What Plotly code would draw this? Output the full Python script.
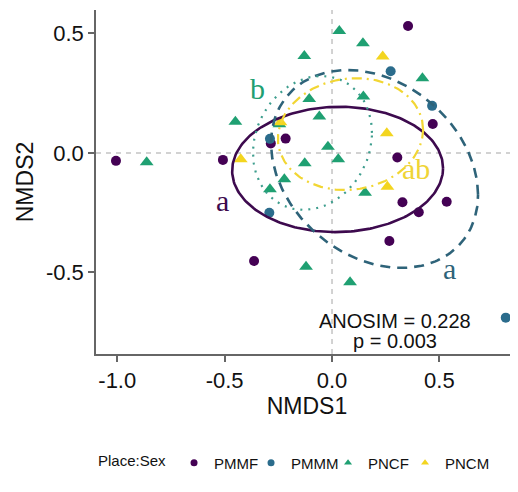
import numpy as np
import plotly.graph_objects as go

# ---------------- data ----------------
groups = ["PMMF", "PMMM", "PNCF", "PNCM"]

pmmf_x = [-1.006, -0.508, -0.216, -0.285, 0.354, 0.469, 0.304, 0.328, 0.404, 0.534, 0.267, -0.363]
pmmf_y = [-0.033, -0.029, 0.060, 0.040, 0.531, 0.121, -0.019, -0.206, -0.248, -0.204, -0.368, -0.452]

pmmm_x = [0.273, 0.466, -0.289, -0.292, 0.809]
pmmm_y = [0.342, 0.197, 0.059, -0.250, -0.689]

pncf_x = [-0.863, -0.450, -0.129, 0.034, 0.144, 0.421, 0.146, -0.106, -0.059, -0.019,
          0.029, -0.127, 0.154, -0.245, -0.289, -0.222, -0.121, 0.084]
pncf_y = [-0.039, 0.131, 0.406, 0.510, 0.459, 0.313, 0.236, 0.226, 0.152, 0.026,
          -0.026, -0.043, -0.166, 0.120, -0.152, -0.110, -0.476, -0.541]

pncm_x = [0.236, 0.255, 0.258, -0.425, -0.240]
pncm_y = [0.403, 0.082, -0.141, -0.026, 0.128]

# ellipse parameters per group: centre, half extents, correlation
ell_cx = [0.026, 0.198, -0.091, 0.086]
ell_cy = [-0.069, -0.067, 0.042, 0.079]
ell_hx = [0.491, 0.482, 0.277, 0.338]
ell_hy = [0.262, 0.414, 0.280, 0.234]
ell_r = [0.02, -0.26, 0.15, 0.08]

# group letters
lab_text = ["a", "a", "b", "ab"]
lab_x = [-0.512, 0.547, -0.345, 0.391]
lab_y = [-0.197, -0.485, 0.268, -0.063]

anosim_r = 0.228
anosim_p = 0.003

# ---------------- styles ----------------
pt_colors = {"PMMF": "#440154", "PMMM": "#2B6C8C", "PNCF": "#1FA072", "PNCM": "#F3D51F"}
pt_symbols = {"PMMF": "circle", "PMMM": "circle", "PNCF": "triangle-up", "PNCM": "triangle-up"}
pt_sizes = {"PMMF": 10, "PMMM": 10, "PNCF": 12, "PNCM": 12}
ell_colors = ["#3D0A4E", "#2E6379", "#3E9E8E", "#F2D633"]
ell_dash = ["solid", "10px,7px", "2px,6px", "10px,5px,2px,5px"]
ell_width = [2.6, 2.6, 2.2, 2.2]
lab_colors = ["#3D0A4E", "#2E6379", "#1FA072", "#EFD436"]

xs = {"PMMF": pmmf_x, "PMMM": pmmm_x, "PNCF": pncf_x, "PNCM": pncm_x}
ys = {"PMMF": pmmf_y, "PMMM": pmmm_y, "PNCF": pncf_y, "PNCM": pncm_y}

fig = go.Figure()

# reference lines
fig.add_hline(y=0, line=dict(color="#C4C4C4", width=1.5, dash="5px,5px"), layer="below")
fig.add_vline(x=0, line=dict(color="#C4C4C4", width=1.5, dash="5px,5px"), layer="below")

# points
for g in groups:
    fig.add_trace(go.Scatter(
        x=xs[g], y=ys[g], mode="markers", name=g, showlegend=False,
        marker=dict(color=pt_colors[g], symbol=pt_symbols[g], size=pt_sizes[g], line=dict(width=0)),
    ))

# ellipses
t = np.linspace(0, 2 * np.pi, 241)
for i, g in enumerate(groups):
    r = ell_r[i]
    ex = ell_cx[i] + ell_hx[i] * np.cos(t)
    ey = ell_cy[i] + ell_hy[i] * (r * np.cos(t) + np.sqrt(1 - r * r) * np.sin(t))
    fig.add_trace(go.Scatter(
        x=ex, y=ey, mode="lines", showlegend=False, hoverinfo="skip",
        line=dict(color=ell_colors[i], width=ell_width[i], dash=ell_dash[i]),
    ))

# legend entries (small keys)
for g in groups:
    fig.add_trace(go.Scatter(
        x=[None], y=[None], mode="markers", name=g,
        marker=dict(color=pt_colors[g], symbol=pt_symbols[g], size=7),
    ))
# blank spacer entry so that the last label is not clipped
fig.add_trace(go.Scatter(x=[None], y=[None], mode="markers", name=" ",
                         marker=dict(color="rgba(0,0,0,0)", size=1), hoverinfo="skip"))

# letters
for i in range(len(lab_text)):
    fig.add_annotation(x=lab_x[i], y=lab_y[i], text=lab_text[i], showarrow=False,
                       font=dict(family="Liberation Serif", size=30, color=lab_colors[i]))

fig.add_annotation(x=0.293, y=-0.703, text=f"ANOSIM = {anosim_r}", showarrow=False,
                   font=dict(family="Liberation Sans", size=20, color="#111111"))
fig.add_annotation(x=0.293, y=-0.787, text=f"p = {anosim_p:.3f}", showarrow=False,
                   font=dict(family="Liberation Sans", size=20, color="#111111"))

axis_common = dict(showline=True, linecolor="#666666", linewidth=1.5, ticks="outside",
                   ticklen=6, tickwidth=1.5, tickcolor="#666666", showgrid=False, zeroline=False,
                   tickfont=dict(family="Liberation Sans", size=22, color="#111111"),
                   mirror=False, automargin=False)

# the page adds an 8px body margin, so the figure is offset by 8px
fig.update_layout(
    width=518, height=492,
    margin=dict(l=88, r=8, t=2, b=146, autoexpand=False),
    paper_bgcolor="white", plot_bgcolor="white",
    font=dict(family="Liberation Sans", color="#111111"),
    xaxis=dict(range=[-1.099, 0.866], tickvals=[-1.0, -0.5, 0.0, 0.5],
               ticktext=["-1.0", "-0.5", "0.0", "0.5"],
               title=dict(text="NMDS1", font=dict(size=23), standoff=4), **axis_common),
    yaxis=dict(range=[-0.841, 0.598], tickvals=[-0.5, 0.0, 0.5],
               ticktext=["-0.5", "0.0", "0.5"],
               title=dict(text="NMDS2", font=dict(size=23), standoff=6), **axis_common),
    legend=dict(orientation="h", x=0.0, xanchor="left", y=-0.317, yanchor="middle",
                title=dict(text="Place:Sex", font=dict(size=15)),
                font=dict(size=15, color="#111111"), itemwidth=30,
                entrywidth=32, entrywidthmode="pixels", bgcolor="rgba(0,0,0,0)"),
    showlegend=True,
)

fig.write_html("out.html")
